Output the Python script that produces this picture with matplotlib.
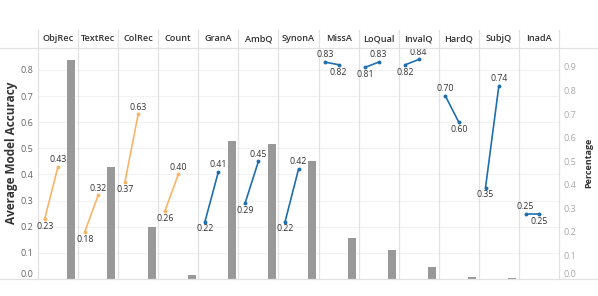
import matplotlib.pyplot as plt
import matplotlib.transforms as mtransforms
from matplotlib.lines import Line2D

plt.rcParams['font.family'] = ['Open Sans', 'DejaVu Sans']

# ---- data ----
tasks = ['ObjRec', 'TextRec', 'ColRec', 'Count', 'GranA', 'AmbQ', 'SynonA',
         'MissA', 'LoQual', 'InvalQ', 'HardQ', 'SubjQ', 'InadA']
acc_before = [0.23, 0.18, 0.37, 0.26, 0.22, 0.29, 0.22, 0.83, 0.81, 0.82, 0.70, 0.35, 0.25]
acc_after = [0.43, 0.32, 0.63, 0.40, 0.41, 0.45, 0.42, 0.82, 0.83, 0.84, 0.60, 0.74, 0.25]
percentage = [0.93, 0.476, 0.219, 0.015, 0.586, 0.572, 0.499, 0.175, 0.121, 0.053, 0.007, 0.006, 0.002]
group_color = ['orange'] * 4 + ['blue'] * 9

colors = {'orange': '#f8b567', 'blue': '#1f6fae'}
sep_col = '#e2e2e2'

fig = plt.figure(figsize=(5.98, 2.96), dpi=100)
ax = fig.add_axes([38 / 598, 17 / 296, 521 / 598, 231 / 296])
acc = ax.twinx()

n = len(tasks)
w = 3  # each task panel is 3 units wide: before, after, bar

# bars on the percentage axis
bar_x = [i * w + 2.5 for i in range(n)]
ax.bar(bar_x, percentage, width=0.6, color='#999999', zorder=2)
ax.set_ylim(0, 0.98)
ax.set_xlim(0, n * w)

# faint gridlines for the accuracy ticks, drawn behind the bars
blend = mtransforms.blended_transform_factory(ax.transAxes, acc.transData)
for g in [0.1, 0.2, 0.3, 0.4, 0.5, 0.6, 0.7, 0.8]:
    ax.plot([0, 1], [g, g], transform=blend, color='#f2f2f2', lw=0.8, zorder=0)

# panel separators, running up through the header row
vblend = mtransforms.blended_transform_factory(ax.transData, ax.transAxes)
for i in range(n + 1):
    ax.plot([i * w, i * w], [0, 1.078], transform=vblend, color=sep_col,
            lw=0.9, clip_on=False, zorder=1)

# slope lines on the accuracy axis
for i in range(n):
    x0, x1 = i * w + 0.5, i * w + 1.5
    y0, y1 = acc_before[i], acc_after[i]
    c = colors[group_color[i]]
    acc.plot([x0, x1], [y0, y1], color=c, lw=1.2, marker='o', ms=1.8,
             solid_capstyle='round')
    left_up = y0 >= y1
    acc.annotate(f'{y0:.2f}', (x0, y0), xytext=(0, 5.3 if left_up else -5.3),
                 textcoords='offset points', ha='center', va='center',
                 fontsize=6.3, color='#333333')
    acc.annotate(f'{y1:.2f}', (x1, y1), xytext=(0, -5.3 if left_up else 5.3),
                 textcoords='offset points', ha='center', va='center',
                 fontsize=6.3, color='#333333')
    acc.text(i * w + 1.5, 1.04, tasks[i], transform=vblend, ha='center',
             va='center', fontsize=6.6, fontweight='semibold', color='#333333')

acc.set_ylim(0, 0.884)
acc.set_yticks([0.0, 0.1, 0.2, 0.3, 0.4, 0.5, 0.6, 0.7, 0.8])
acc.set_yticklabels(['0.0', '0.1', '0.2', '0.3', '0.4', '0.5', '0.6', '0.7', '0.8'])
acc.yaxis.tick_left()
acc.tick_params(axis='y', length=0, pad=3.5, labelsize=6.5, labelcolor='#666666')

ax.set_yticks([0.0, 0.1, 0.2, 0.3, 0.4, 0.5, 0.6, 0.7, 0.8, 0.9])
ax.set_yticklabels(['0.0', '0.1', '0.2', '0.3', '0.4', '0.5', '0.6', '0.7', '0.8', '0.9'])
ax.yaxis.tick_right()
ax.tick_params(axis='y', length=0, pad=3, labelsize=6.5, labelcolor='#aaaaaa')
ax.set_xticks([])

# zero labels sit just above the baseline
acc.yaxis.get_major_ticks()[0].label1.set_verticalalignment('bottom')
ax.yaxis.get_major_ticks()[0].label2.set_verticalalignment('bottom')

for a in (ax, acc):
    for s in a.spines.values():
        s.set_visible(False)
    a.patch.set_visible(False)

# full-width rules under the header and at the baseline
for yy in (248 / 296, 17 / 296):
    fig.add_artist(Line2D([0, 1], [yy, yy], transform=fig.transFigure,
                          color=sep_col, lw=0.9))

fig.text(12 / 598, (296 - 153) / 296, 'Average Model Accuracy', rotation=90,
         ha='center', va='center', fontsize=8.5, fontweight='bold', color='#333333')
fig.text(589 / 598, (296 - 163) / 296, 'Percentage', rotation=90,
         ha='center', va='center', fontsize=6.5, fontweight='bold', color='#333333')

fig.savefig('out.png', dpi=100)
